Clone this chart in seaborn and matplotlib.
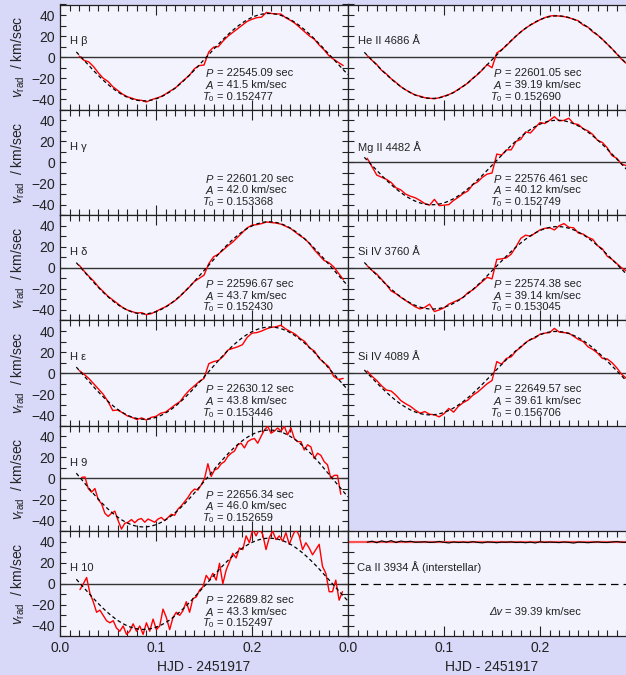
import numpy as np
import matplotlib
matplotlib.use('Agg')
import matplotlib.pyplot as plt
from matplotlib.ticker import MultipleLocator
import seaborn as sns

# sample times (HJD - 2451917) of the smooth line profiles
t_grid = np.round(np.arange(0.020, 0.2951, 0.005), 3)
# the two noisy Balmer lines were sampled more densely
h9_t = np.linspace(0.0225, 0.2925, 79)
h10_t = np.linspace(0.0208, 0.2942, 80)

# radial velocities (km/sec)
hb_v = [1, -3, -4.5, -9, -15, -20, -23, -28, -31.5, -35,
        -37.5, -39, -40.5, -41, -42.5, -40.5, -39, -37.5, -35, -32,
        -29.5, -25, -21, -17, -11, -8, -7.5, 5, 9.5, 10,
        15.5, 20, 23.5, 27, 30.5, 34, 36, 37.5, 38, 42.5,
        41.5, 41, 41, 37.5, 35, 32, 28, 24, 20, 17,
        11.5, 7, 1.5, -2, -5, -8]
heii_v = [1.5, -3, -7, -12.5, -16, -20.5, -24, -28, -31, -33.5,
          -36, -37, -38.5, -39, -39.5, -38.5, -37, -35.5, -33.5, -30.5,
          -27.5, -24.5, -20, -16.5, -12, -7, -10, 4, 7, 11,
          15.5, 20, 24, 27.5, 30.5, 33, 35.5, 37.5, 39, 39.5,
          39, 38.5, 37.5, 36, 34.5, 30.5, 28.5, 24, 21, 17,
          12.5, 8, 3, -2, -6, -10]
hd_v = [2.5, -3, -8, -12.5, -18, -22.5, -27, -30.5, -34, -37.5,
        -40, -41.5, -43, -42.5, -44.5, -43.5, -41.5, -39, -37, -34,
        -31, -27, -22.5, -18, -13, -10, -7, 4, 10.5, 13,
        17, 21, 24.5, 29, 33.5, 38, 40.5, 41, 42, 43.5,
        43, 42.5, 41.5, 39.5, 37.5, 34, 30.5, 27.5, 23, 17,
        12, 7, 5, 1, -5, -11]
he_v = [2.5, -1, -5, -10, -15, -20, -27, -35.5, -35, -37.5,
        -40.5, -42, -44, -42.5, -44.5, -42, -41, -38, -37, -33.5,
        -30, -27, -21, -16, -12, -8, -5, 9, 11, 12,
        16, 22, 23.5, 25, 27, 34, 38, 38.5, 40, 42,
        43.5, 44, 45.5, 42, 39.5, 37, 33, 30, 24, 21,
        14, 10, 6, -3, -6, -5]
mg_v = [4, -4, -12, -14, -16, -19, -24, -26, -30, -32,
        -33.5, -36, -39, -40.5, -35, -41, -40.5, -40, -36, -33,
        -29.5, -27, -21, -18.5, -14, -11, -10, 8, 7, 12,
        12, 20, 22, 29, 28, 33, 38, 37, 40, 43.5,
        39.5, 40, 42, 37, 36, 32, 30, 26.5, 21, 19,
        14, 6.5, 4, -1.5, -3, -6]
si3760_v = [2, -2.5, -6, -11, -16, -22, -24.5, -28, -31, -34,
            -37, -39, -37.5, -34.5, -41.5, -40, -38, -34.5, -32.5, -30.5,
            -28, -23.5, -21, -17, -13, -9, -10.5, 8, 8.5, 9.5,
            13, 20, 28, 31, 30, 33, 36, 37.5, 38, 36,
            40, 42, 38.5, 38, 33, 32, 29, 27, 21, 18,
            11, 8, 4, 0, -3, -5]
si4089_v = [2, -3, -7, -12, -16, -17, -21, -26, -29, -31.5,
            -35, -38, -36.5, -39, -39.5, -41.5, -38.5, -33.5, -37, -31.5,
            -28, -25.5, -21, -18, -14, -10, -7, 11, 8.5, 14,
            15.5, 21, 24.5, 29, 32, 33.5, 37, 38, 38.5, 42.5,
            39, 38.5, 38, 35, 32, 30, 25, 22.5, 19, 14,
            13.5, 10, 5, -1, -5, -8]
h9_v = [1, 1.5, -9.5, -13, -9.5, -20, -24, -33, -36, -33,
        -31, -40, -48, -42.5, -41.5, -39, -42, -39, -38, -41.5,
        -38.5, -40, -41.5, -38.5, -37, -40, -37, -34, -35, -29,
        -26, -22, -18, -13, -10, -11, -6, 0, 14, 2,
        8, 9.5, 14, 16, 21, 24, 26, 32, 33.5, 29,
        35, 37, 38, 33.5, 40, 46, 49.5, 43, 45, 48,
        45, 49.5, 41.5, 48, 38, 35, 35, 27, 32, 30,
        19, 24, 22, 16, 13, 0, 3, 3, -15]
h10_v = [-5.5, 0, 6, -9, -17, -27, -25, -30, -35, -37,
         -35, -42, -45, -40, -48, -45, -38, -45, -40, -48,
         -37, -45, -33.5, -43.5, -40, -24, -32, -43.5, -32, -27,
         -30, -25.5, -17, -27, -14, -12.5, -6, -3, 8, 3.5,
         10, 3.5, 19.5, 0, 13, 21, 29, 24.5, 34, 32.5,
         45.5, 39, 52, 45.5, 52, 47, 32.5, 44, 50, 42,
         45.5, 40.5, 48.5, 37.5, 45.5, 52, 45.5, 32.5, 39, 34,
         27.5, 32.5, 37.5, 16.5, 10, -7.5, -7.5, 3.5, -15.5, -7.5]
ca_v = [39.5, 40.5, 39.0, 40.8, 39.6, 41.0, 39.2, 40.6, 39.8, 40.4,
        39.5, 39.6, 39.9, 39.3, 39.5, 40.2, 39.4, 38.8, 39.7, 39.2,
        39.6, 39.1, 40.0, 39.3, 38.9, 39.7, 39.5, 39.0, 39.6, 39.4,
        39.8, 39.2, 39.5, 39.0, 39.6, 38.8, 39.9, 39.3, 39.6, 39.4,
        39.1, 39.7, 39.3, 38.7, 39.6, 39.4, 39.0, 39.5, 39.8, 39.3,
        39.2, 39.7, 40.1, 39.5, 39.3, 39.6]
ca_shift = 39.39

# sine fit parameters printed in each panel
line_names = ['H β', 'H γ', 'H δ', 'H ε', 'H 9', 'H 10',
              'He II 4686 Å', 'Mg II 4482 Å', 'Si IV 3760 Å', 'Si IV 4089 Å']
period_txt = ['22545.09', '22601.20', '22596.67', '22630.12', '22656.34', '22689.82',
              '22601.05', '22576.461', '22574.38', '22649.57']
amp_txt = ['41.5', '42.0', '43.7', '43.8', '46.0', '43.3',
           '39.19', '40.12', '39.14', '39.61']
t0_txt = ['0.152477', '0.153368', '0.152430', '0.153446', '0.152659', '0.152497',
          '0.152690', '0.152749', '0.153045', '0.156706']
# upward zero crossing of the dashed fit as it sits in the figure
fit_zero = [0.152477, None, 0.152430, 0.153446, 0.152659, 0.152497,
            0.152690, 0.152749, 0.153045, 0.1512]

obs_t = [t_grid, None, t_grid, t_grid, h9_t, h10_t, t_grid, t_grid, t_grid, t_grid]
obs_v = [hb_v, None, hd_v, he_v, h9_v, h10_v, heii_v, mg_v, si3760_v, si4089_v]
# (row, column) of each panel
slots = [(0, 0), (1, 0), (2, 0), (3, 0), (4, 0), (5, 0),
         (0, 1), (1, 1), (2, 1), (3, 1)]

sns.set_theme(style='ticks')
plt.rcParams['font.family'] = ['Liberation Sans', 'DejaVu Sans']
plt.rcParams['mathtext.fontset'] = 'custom'
plt.rcParams['mathtext.rm'] = 'Liberation Sans'
plt.rcParams['mathtext.it'] = 'Liberation Sans:italic'

BG = '#d8d8f8'
PANEL = '#f3f3fd'
INK = '#222222'
W, H = 626, 675
ROW_H = 105.33
TXT = 8.0

fig = plt.figure(figsize=(W / 100, H / 100), dpi=100)
fig.patch.set_facecolor(BG)


def make_axes(row, col):
    x0 = (60 if col == 0 else 348) / W
    top = 4.5 + row * ROW_H
    ax = fig.add_axes([x0, 1 - (top + ROW_H) / H, 288 / W, ROW_H / H])
    ax.set_facecolor(PANEL)
    ax.xaxis.set_major_locator(MultipleLocator(0.1))
    ax.xaxis.set_minor_locator(MultipleLocator(0.01))
    ax.yaxis.set_major_locator(MultipleLocator(20))
    ax.yaxis.set_minor_locator(MultipleLocator(10))
    ax.tick_params(which='both', direction='in', top=True, right=True,
                   width=0.8, color=INK, labelsize=10, labelcolor=INK)
    ax.tick_params(axis='x', which='major', length=7)
    ax.tick_params(axis='x', which='minor', length=4)
    ax.tick_params(axis='y', which='both', length=4.5)
    for s in ax.spines.values():
        s.set_linewidth(0.9)
        s.set_color(INK)
    return ax


def finish_axes(ax, row, col):
    ax.set_xlim(0, 0.3)
    ax.set_ylim(-50, 50)
    if row == 5:
        ax.set_xticks([0, 0.1, 0.2, 0.3])
        ax.set_xticklabels(['0.0', '0.1', '0.2', ''])
        ax.set_xlabel('HJD - 2451917', fontsize=10, color=INK, labelpad=3)
    else:
        ax.tick_params(labelbottom=False)
        ax.set_xlabel('')
    if col == 0:
        ax.set_ylabel(r'$v_{\rm rad}$  / km/sec', fontsize=10, color=INK, labelpad=3)
    else:
        ax.tick_params(labelleft=False)
        ax.set_ylabel('')


def stats(ax, rows, x_eq=0.164):
    for (lab, rest), y in zip(rows, [-15.5, -26.5, -37.5]):
        ax.text(x_eq - 0.003, y, lab, ha='right', va='center', fontsize=TXT, color=INK)
        ax.text(x_eq, y, rest, ha='left', va='center', fontsize=TXT, color=INK)


for i, (row, col) in enumerate(slots):
    ax = make_axes(row, col)
    if obs_v[i] is not None:
        ax.axhline(0, color='#333333', lw=1.0, zorder=1)
        p_day = float(period_txt[i]) / 86400.0
        t_fit = np.linspace(0.017, 0.30, 400)
        v_fit = float(amp_txt[i]) * np.sin(2 * np.pi * (t_fit - fit_zero[i]) / p_day)
        sns.lineplot(x=obs_t[i], y=obs_v[i], ax=ax, color='red', lw=1.0,
                     sort=False, estimator=None, zorder=3)
        sns.lineplot(x=t_fit, y=v_fit, ax=ax, color='black', lw=0.9,
                     linestyle=(0, (3, 2.2)), sort=False, estimator=None, zorder=4)
    finish_axes(ax, row, col)
    ax.text(0.010, 15, line_names[i], ha='left', va='center', fontsize=TXT, color=INK)
    stats(ax, [(r'$P$', '= %s sec' % period_txt[i]),
               (r'$A$', '= %s km/sec' % amp_txt[i]),
               (r'$T_0$', '= %s' % t0_txt[i])])

# interstellar Ca II panel (bottom right); the right slot of row 4 stays empty
ax = make_axes(5, 1)
ax.axhline(0, color='black', lw=0.9, linestyle=(0, (6, 4)), zorder=1)
ax.axhline(ca_shift, color='#ff5050', lw=1.6, zorder=2)
sns.lineplot(x=t_grid, y=ca_v, ax=ax, color='black', lw=0.8,
             sort=False, estimator=None, zorder=3)
finish_axes(ax, 5, 1)
ax.text(0.009, 15.5, 'Ca II 3934 Å (interstellar)', ha='left', va='center',
        fontsize=TXT, color=INK)
ax.text(0.161, -27, 'Δv', ha='right', va='center', fontsize=TXT,
        style='italic', color=INK)
ax.text(0.164, -27, '= %.2f km/sec' % ca_shift, ha='left', va='center',
        fontsize=TXT, color=INK)

fig.savefig('out.png', dpi=100, facecolor=fig.get_facecolor())
